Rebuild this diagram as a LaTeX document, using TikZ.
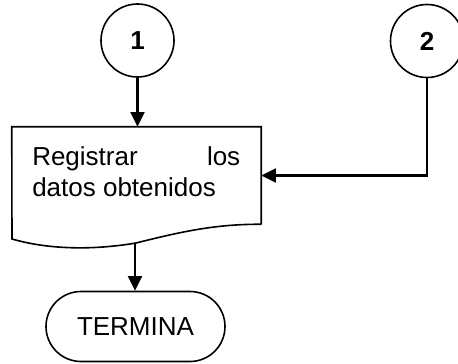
\documentclass[tikz,border=0pt]{standalone}
\usepackage{fontspec}
\setmainfont{Liberation Sans}
\usetikzlibrary{arrows.meta}
\tikzset{
  shapeline/.style={line width=1.2pt, draw=black},
  conn/.style={line width=1.6pt, -{Triangle[length=11pt,width=10.5pt]}},
  connector/.style={circle, shapeline, minimum size=54.75pt, inner sep=0pt, font=\fontsize{19.5pt}{23pt}\selectfont\bfseries},
  terminal/.style={rectangle, shapeline, rounded corners=26.25pt, minimum width=134.25pt, minimum height=52.5pt, inner sep=0pt, font=\fontsize{19.5pt}{23pt}\selectfont},
  boxarea/.style={rectangle, inner sep=0pt, minimum width=186.75pt, minimum height=72.75pt},
  bodytext/.style={inner sep=0pt, text width=156pt, align=flush left, font=\fontsize{19.5pt}{23.25pt}\selectfont}
}
\begin{document}
\begin{tikzpicture}[x=0.75pt, y=-0.75pt]
\useasboundingbox (0,0) rectangle (458,364);
\node[connector] (c1) at (137.5,40.5) {1};
\node[connector] (c2) at (427,41) {2};
\node[boxarea] (box) at (136.5,175.5) {};
\draw[shapeline] (box.south east) -- (box.north east) -- (box.north west) -- (12,239)
  .. controls (50,250) and (95,250) .. (136,243)
  .. controls (180,232) and (215,224) .. (box.south east);
\node[bodytext, anchor=north west] (txt) at (32,146) {Registrar\hfill los\\datos obtenidos};
\coordinate (wb) at (135,243);
\node[terminal] (term) at (135.5,326.5) {TERMINA};
\draw[conn] (c1.south) -- (c1.south |- box.north);
\draw[conn] (c2.south) |- (box.east);
\draw[conn] (wb) -- (wb |- term.north);
\end{tikzpicture}
\end{document}
